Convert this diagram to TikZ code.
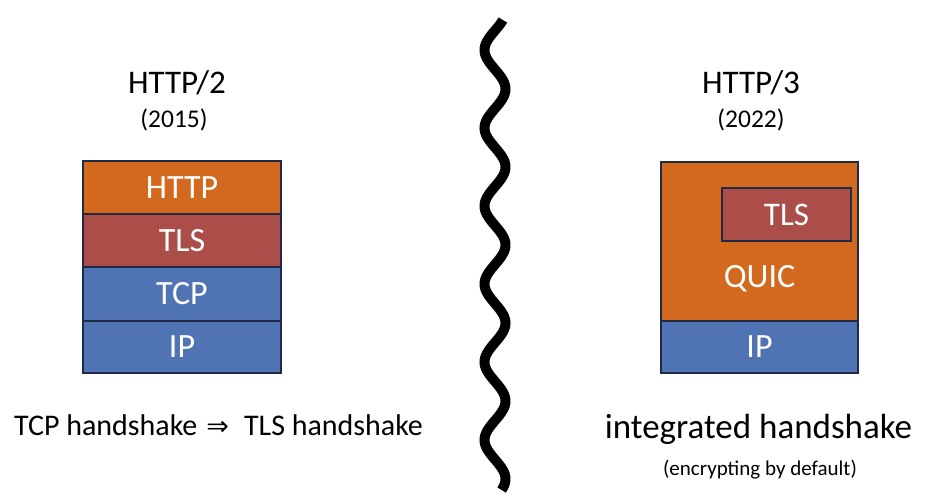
\documentclass[tikz,border=0pt]{standalone}
\usepackage{fontspec}
\setmainfont{Carlito}
\newfontfamily\symfont{DejaVu Sans}
\definecolor{orangeL}{HTML}{D2691E}
\definecolor{redL}{HTML}{AB4D48}
\definecolor{blueL}{HTML}{4F73B3}
\definecolor{edgec}{HTML}{1F2B45}
\begin{document}
\begin{tikzpicture}[x=1pt,y=-1pt,
  layer/.style={draw=edgec, line width=2pt, inner sep=0pt, text=white,
    font=\fontsize{34}{38}\selectfont},
  lbl/.style={text=white, inner sep=0pt, font=\fontsize{34}{38}\selectfont},
  head/.style={anchor=base, inner sep=0pt, font=\fontsize{33}{38}\selectfont},
  year/.style={anchor=base, inner sep=0pt, font=\fontsize{25.5}{28}\selectfont},
  note/.style={anchor=base, inner sep=0pt, font=\fontsize{30}{34}\selectfont}]
\useasboundingbox (0,0) rectangle (932,498);
\fill[white] (0,0) rectangle (932,498);

% left stack
\node[layer, fill=orangeL, minimum width=198pt, minimum height=53pt] (http) at (182,187.5) {HTTP};
\node[layer, fill=redL, minimum width=198pt, minimum height=53pt] (tlsA) at (182,240.5) {TLS};
\node[layer, fill=blueL, minimum width=198pt, minimum height=54pt] (tcp) at (182,294) {TCP};
\node[layer, fill=blueL, minimum width=198pt, minimum height=52pt] (ipA) at (182,347) {IP};

\node[head] (h2) at (177,93) {HTTP/2};
\node[year] (y2) at (174,127) {(2015)};
\node[note] (hs2) at (218.5,435) {TCP handshake\hspace{0.3em}{\symfont\fontsize{27}{27}\selectfont\raisebox{0pt}{⇒}}\hspace{0.5em}TLS handshake};

% right stack
\node[layer, fill=orangeL, minimum width=197pt, minimum height=159pt] (quic) at (759.5,241.5) {};
\node[layer, fill=blueL, minimum width=197pt, minimum height=52pt] (ipB) at (759.5,347) {IP};
\node[layer, fill=redL, minimum width=129pt, minimum height=53pt, font=\fontsize{33}{36}\selectfont] (tlsB) at (786.5,214.5) {TLS};
\node[lbl] (quiclbl) at (759.5,279) {QUIC};

\node[head] (h3) at (751,93) {HTTP/3};
\node[year] (y3) at (751,127) {(2022)};
\node[anchor=base, inner sep=0pt, font=\fontsize{35}{40}\selectfont] (hs3) at (758.5,438) {integrated handshake};
\node[anchor=base, inner sep=0pt, font=\fontsize{21}{25}\selectfont] (enc) at (760,475) {(encrypting by default)};

% wavy divider
\draw[line width=10pt, black] plot[domain=20:490, samples=240, smooth] ({495+10.5*cos(4.6154*(\x-89))}, \x);
\end{tikzpicture}
\end{document}
